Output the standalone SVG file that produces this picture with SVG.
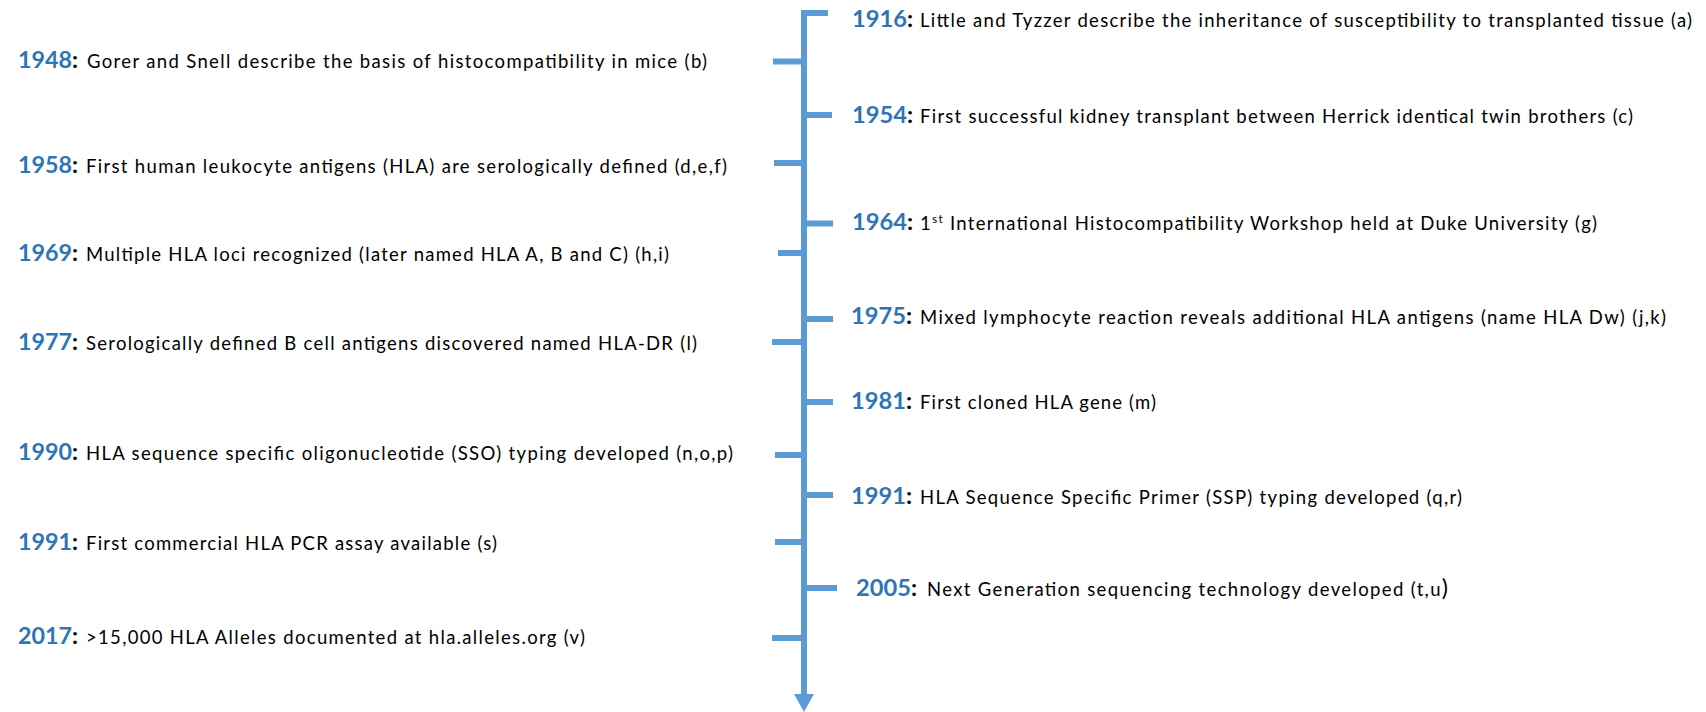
<svg xmlns="http://www.w3.org/2000/svg" width="1706" height="712" viewBox="0 0 1706 712">
<style>
.yr{font-family:Lato,"Liberation Sans",sans-serif;font-weight:bold;font-size:23.5px;}
.yr .y{fill:#2E75B6;}
.yr .c{fill:#000;}
.bd{font-family:Lato,"Liberation Sans",sans-serif;font-size:18.5px;fill:#000;}
.ax{fill:#5B9BD5;}
</style>
<rect width="1706" height="712" fill="#fff"/>
<g id="connectors" class="ax">
<rect x="801" y="10" width="6" height="686"/>
<polygon points="794,694 814,694 804,712"/>
<rect x="801" y="10" width="27" height="6"/>
<rect x="807" y="112" width="25" height="6"/>
<rect x="807" y="220.5" width="26" height="6"/>
<rect x="807" y="316" width="26" height="6"/>
<rect x="807" y="399" width="26" height="6"/>
<rect x="807" y="492" width="26" height="6"/>
<rect x="807" y="585" width="30" height="6"/>
<rect x="773" y="58.5" width="28" height="6"/>
<rect x="774" y="160" width="27" height="6"/>
<rect x="778" y="250" width="23" height="6"/>
<rect x="772" y="339" width="29" height="6"/>
<rect x="775" y="452" width="26" height="6"/>
<rect x="775" y="539" width="26" height="6"/>
<rect x="772" y="635" width="29" height="6"/>
</g>
<g id="n1916"><text class="yr" x="852" y="27" textLength="61" lengthAdjust="spacingAndGlyphs"><tspan class="y">1916</tspan><tspan class="c">:</tspan></text><text class="bd" x="920" y="27" textLength="772">Little and Tyzzer describe the inheritance of susceptibility to transplanted tissue (a)</text></g>
<g id="n1948"><text class="yr" x="18" y="68" textLength="60" lengthAdjust="spacingAndGlyphs"><tspan class="y">1948</tspan><tspan class="c">:</tspan></text><text class="bd" x="87" y="68" textLength="620">Gorer and Snell describe the basis of histocompatibility in mice (b)</text></g>
<g id="n1954"><text class="yr" x="852" y="123" textLength="61" lengthAdjust="spacingAndGlyphs"><tspan class="y">1954</tspan><tspan class="c">:</tspan></text><text class="bd" x="920" y="123" textLength="713">First successful kidney transplant between Herrick identical twin brothers (c)</text></g>
<g id="n1958"><text class="yr" x="18" y="173" textLength="60" lengthAdjust="spacingAndGlyphs"><tspan class="y">1958</tspan><tspan class="c">:</tspan></text><text class="bd" x="86" y="173" textLength="641">First human leukocyte antigens (HLA) are serologically defined (d,e,f)</text></g>
<g id="n1964"><text class="yr" x="852" y="230" textLength="61" lengthAdjust="spacingAndGlyphs"><tspan class="y">1964</tspan><tspan class="c">:</tspan></text><text class="bd" x="920" y="230" textLength="677">1<tspan dy="-7" font-size="12">st</tspan><tspan dy="7"> International Histocompatibility Workshop held at Duke University (g)</tspan></text></g>
<g id="n1969"><text class="yr" x="18" y="261" textLength="60" lengthAdjust="spacingAndGlyphs"><tspan class="y">1969</tspan><tspan class="c">:</tspan></text><text class="bd" x="86" y="261" textLength="583">Multiple HLA loci recognized (later named HLA A, B and C) (h,i)</text></g>
<g id="n1975"><text class="yr" x="851" y="324" textLength="61" lengthAdjust="spacingAndGlyphs"><tspan class="y">1975</tspan><tspan class="c">:</tspan></text><text class="bd" x="920" y="324" textLength="746">Mixed lymphocyte reaction reveals additional HLA antigens (name HLA Dw) (j,k)</text></g>
<g id="n1977"><text class="yr" x="18" y="350" textLength="60" lengthAdjust="spacingAndGlyphs"><tspan class="y">1977</tspan><tspan class="c">:</tspan></text><text class="bd" x="86" y="350" textLength="611">Serologically defined B cell antigens discovered named HLA-DR (l)</text></g>
<g id="n1981"><text class="yr" x="851" y="409" textLength="61" lengthAdjust="spacingAndGlyphs"><tspan class="y">1981</tspan><tspan class="c">:</tspan></text><text class="bd" x="920" y="409" textLength="236">First cloned HLA gene (m)</text></g>
<g id="n1990"><text class="yr" x="18" y="460" textLength="60" lengthAdjust="spacingAndGlyphs"><tspan class="y">1990</tspan><tspan class="c">:</tspan></text><text class="bd" x="86" y="460" textLength="647">HLA sequence specific oligonucleotide (SSO) typing developed (n,o,p)</text></g>
<g id="n1991r"><text class="yr" x="851" y="504" textLength="61" lengthAdjust="spacingAndGlyphs"><tspan class="y">1991</tspan><tspan class="c">:</tspan></text><text class="bd" x="920" y="504" textLength="542">HLA Sequence Specific Primer (SSP) typing developed (q,r)</text></g>
<g id="n1991l"><text class="yr" x="18" y="550" textLength="60" lengthAdjust="spacingAndGlyphs"><tspan class="y">1991</tspan><tspan class="c">:</tspan></text><text class="bd" x="86" y="550" textLength="411">First commercial HLA PCR assay available (s)</text></g>
<g id="n2005"><text class="yr" x="856" y="596" textLength="61" lengthAdjust="spacingAndGlyphs"><tspan class="y">2005</tspan><tspan class="c">:</tspan></text><text class="bd" x="927" y="596" textLength="521">Next Generation sequencing technology developed (t,u<tspan font-size="23">)</tspan></text></g>
<g id="n2017"><text class="yr" x="18" y="644" textLength="60" lengthAdjust="spacingAndGlyphs"><tspan class="y">2017</tspan><tspan class="c">:</tspan></text><text class="bd" x="86" y="644" textLength="499">&gt;15,000 HLA Alleles documented at hla.alleles.org (v)</text></g>
</svg>
